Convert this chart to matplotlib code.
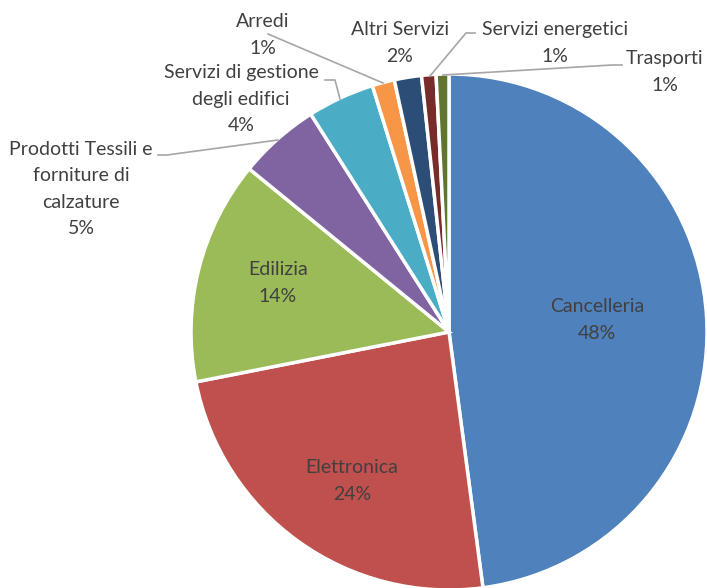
import matplotlib
matplotlib.use('Agg')
import matplotlib.pyplot as plt

plt.rcParams['font.family'] = ['Lato', 'DejaVu Sans']

# dati (percentuali stimate)
categorie = ['Cancelleria', 'Elettronica', 'Edilizia',
             'Prodotti Tessili e\nforniture di\ncalzature',
             'Servizi di gestione\ndegli edifici', 'Arredi', 'Altri Servizi',
             'Servizi energetici', 'Trasporti']
valori = [47.9, 24.0, 14.0, 5.1, 4.2, 1.4, 1.7, 0.9, 0.8]
colori = ['#4F81BD', '#C0504D', '#9BBB59', '#8064A2', '#4BACC6',
          '#F79646', '#2C4D75', '#772C2A', '#5F7530']

W, H = 707, 588
fig = plt.figure(figsize=(W / 100, H / 100), dpi=100)
ax = fig.add_axes([0, 0, 1, 1])

cx, cy, r = 449, H - 332, 258
ax.pie(valori, colors=colori, startangle=90, counterclock=False,
       center=(cx, cy), radius=r, frame=True,
       wedgeprops=dict(edgecolor='white', linewidth=2.5))
ax.set_xlim(0, W)
ax.set_ylim(0, H)
ax.set_aspect('equal')
ax.axis('off')

tot = sum(valori)
# posizione (pixel, dall'alto) del centro di ogni etichetta
pos_etichette = [(597, 320), (352, 481), (278, 283), (81, 189),
                 (241, 99), (263, 35), (400, 43), (555, 43), (665, 72)]
grigio = '#404040'
for nome, v, (x, y) in zip(categorie, valori, pos_etichette):
    testo = f'{nome}\n{v / tot * 100:.0f}%'
    ax.text(x, H - y, testo, ha='center', va='center', fontsize=14,
            color=grigio, linespacing=1.65)

# linee guida
linee = [
    [(268, 34), (383, 83)],
    [(325, 80), (335, 80), (340, 99)],
    [(158, 155), (167, 155), (278, 140)],
    [(475, 33), (466, 33), (430, 76)],
    [(443, 75), (612, 65), (622, 65)],
]
for pts in linee:
    xs = [p[0] for p in pts]
    ys = [H - p[1] for p in pts]
    ax.plot(xs, ys, color='#A6A6A6', linewidth=1.2)

plt.savefig('out.png', dpi=100)
